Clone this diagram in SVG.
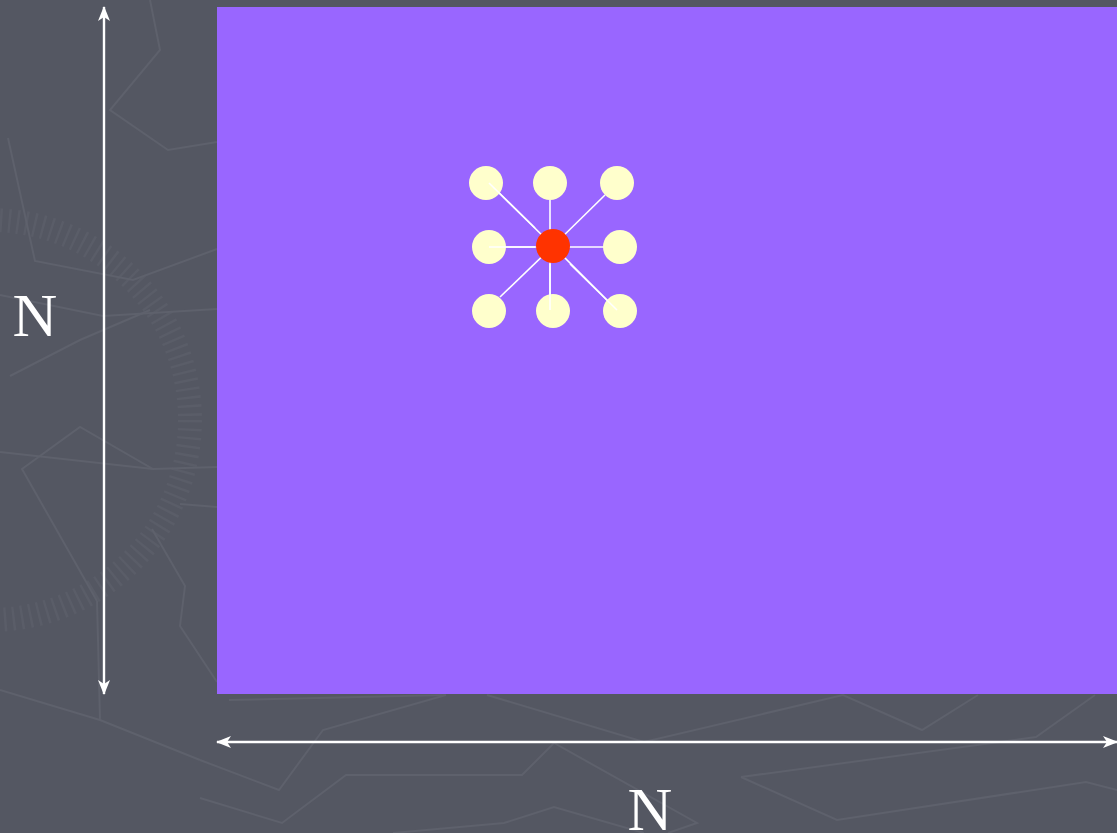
<svg xmlns="http://www.w3.org/2000/svg" width="1117" height="833" viewBox="0 0 1117 833">
<style>
.bg{fill:none;stroke:#5e616c;stroke-width:2}
.dim{stroke:#ffffff;stroke-width:2.4;fill:none}
.spoke{stroke:#ffffff;stroke-width:1.6}
.nb{fill:#ffffcc}
.lbl{font-family:"Liberation Serif","Times New Roman",serif;font-size:62px;fill:#ffffff;text-anchor:middle}
</style>
<defs>
<marker id="ah" viewBox="0 0 15 12" refX="14" refY="6" markerWidth="15" markerHeight="12" markerUnits="userSpaceOnUse" orient="auto-start-reverse">
<path d="M0,0 L15,6 L0,12 L4,6 z" fill="#ffffff"/>
</marker>
</defs>
<rect width="1117" height="833" fill="#545762"/>
<g id="background">
<circle cx="-10" cy="420" r="200" fill="none" stroke="#5a5d68" stroke-width="24" stroke-dasharray="2.5 6"/>
<polyline class="bg" points="150,0 160,50 110,110 168,150 217,142"/>
<polyline class="bg" points="8,138 35,261 133,280 217,249"/>
<polyline class="bg" points="10,376 80,340 150,310"/>
<polyline class="bg" points="0,295 103,316 217,309"/>
<polyline class="bg" points="97,601 22,469 80,427 153,469 217,467"/>
<polyline class="bg" points="0,452 153,469"/>
<polyline class="bg" points="152,529 185,586 180,626 217,682"/>
<polyline class="bg" points="180,504 217,507"/>
<polyline class="bg" points="97,601 100,720 200,760"/>
<polyline class="bg" points="229,700 446,695"/>
<polyline class="bg" points="200,760 279,790 323,730 446,695"/>
<polyline class="bg" points="487,695 644,742 843,695 922,730 978,695"/>
<polyline class="bg" points="200,798 282,823 346,775 522,775 554,743 697,823 668,833"/>
<polyline class="bg" points="393,833 504,823 554,807 644,833"/>
<polyline class="bg" points="741,777 1036,737 1095,695"/>
<polyline class="bg" points="741,777 837,820 1086,782 1117,790"/>
<polyline class="bg" points="0,690 100,720"/>
</g>
<rect id="grid" x="217" y="7" width="900" height="687" fill="#9966ff"/>
<g id="connectors">
<line class="spoke" x1="553" y1="246" x2="489" y2="183"/>
<line class="spoke" x1="550" y1="246" x2="550" y2="200"/>
<line class="spoke" x1="553" y1="246" x2="605" y2="195"/>
<line class="spoke" x1="553" y1="247" x2="489" y2="247"/>
<line class="spoke" x1="553" y1="247" x2="617" y2="247"/>
<line class="spoke" x1="553" y1="246" x2="500" y2="297"/>
<line class="spoke" x1="550" y1="246" x2="550" y2="310"/>
<line class="spoke" x1="553" y1="246" x2="617" y2="310"/>
<line class="dim" x1="104" y1="7" x2="104" y2="694" marker-start="url(#ah)" marker-end="url(#ah)"/>
<line class="dim" x1="217" y1="742" x2="1117" y2="742" marker-start="url(#ah)" marker-end="url(#ah)"/>
</g>
<g id="n-tl"><circle class="nb" cx="486" cy="183" r="17"/></g>
<g id="n-tc"><circle class="nb" cx="550" cy="183" r="17"/></g>
<g id="n-tr"><circle class="nb" cx="617" cy="183" r="17"/></g>
<g id="n-ml"><circle class="nb" cx="489" cy="247" r="17"/></g>
<g id="n-mr"><circle class="nb" cx="620" cy="247" r="17"/></g>
<g id="n-bl"><circle class="nb" cx="489" cy="311" r="17"/></g>
<g id="n-bc"><circle class="nb" cx="553" cy="311" r="17"/></g>
<g id="n-br"><circle class="nb" cx="620" cy="311" r="17"/></g>
<g id="connectors-over">
<line class="spoke" x1="535" y1="228" x2="489" y2="183"/>
<line class="spoke" x1="535" y1="247" x2="489" y2="247"/>
<line class="spoke" x1="550" y1="264" x2="550" y2="310"/>
<line class="spoke" x1="570" y1="264" x2="617" y2="310"/>
</g>
<g id="center"><circle cx="553" cy="246" r="17" fill="#ff3300"/></g>
<g id="labels">
<text class="lbl" x="35" y="336">N</text>
<text class="lbl" x="650" y="830">N</text>
</g>
</svg>
